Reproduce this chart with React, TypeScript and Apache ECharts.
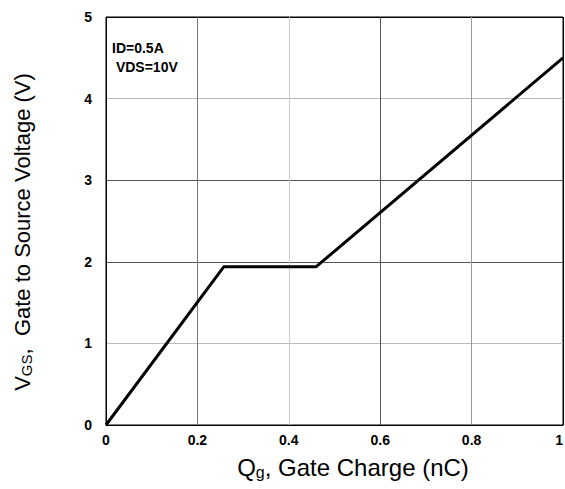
import React, { useEffect, useRef } from "react";
import * as echarts from "echarts";

const qg = [0, 0.258, 0.46, 1.0];
const vgs = [0, 1.94, 1.94, 4.5];
const xTicks = [0, 0.2, 0.4, 0.6, 0.8, 1];
const yTicks = [0, 1, 2, 3, 4, 5];
const notes = ["ID=0.5A", " VDS=10V"];
const xTitle = "{a|Q}{s|g}{a|, Gate Charge (nC)}";
const yTitle = "{a|V}{s|GS}{a|,  Gate to Source Voltage (V)}";

export default function App() {
  const ref = useRef<HTMLDivElement>(null);
  useEffect(() => {
    const chart = echarts.init(ref.current!, null, { renderer: "svg" });
    const font = "Liberation Sans, Arial, sans-serif";
    chart.setOption({
      animation: false,
      backgroundColor: "#fff",
      grid: {
        left: 106,
        right: 2,
        top: 17,
        bottom: 64,
        show: true,
        borderColor: "#000",
        borderWidth: 1,
        backgroundColor: "transparent",
        outerBoundsMode: "none",
        containLabel: false,
      },
      xAxis: {
        type: "value",
        min: 0,
        max: 1,
        interval: 0.2,
        axisLine: { show: true, lineStyle: { color: "#000", width: 1 } },
        axisTick: { show: false },
        axisLabel: {
          margin: 8,
          color: "#000",
          fontWeight: "bold",
          fontSize: 14,
          fontFamily: font,
          alignMaxLabel: "right",
          formatter: (v: number) => {
            const t = xTicks.find((k) => Math.abs(k - v) < 1e-6);
            return t === undefined ? "" : String(t);
          },
        },
        splitLine: {
          show: true,
          lineStyle: { color: ["#000", "#777", "#ccc", "#555", "#999", "#000"], width: 1 },
        },
      },
      yAxis: {
        type: "value",
        min: 0,
        max: 5,
        interval: 1,
        axisLine: { show: true, lineStyle: { color: "#000", width: 1 } },
        axisTick: { show: false },
        axisLabel: {
          margin: 14,
          color: "#000",
          fontWeight: "bold",
          fontSize: 14,
          fontFamily: font,
          formatter: (v: number) => String(yTicks.find((k) => k === v) ?? ""),
        },
        splitLine: {
          show: true,
          lineStyle: { color: ["#000", "#bbb", "#555", "#555", "#bbb", "#000"], width: 1 },
        },
      },
      graphic: [
        {
          type: "text",
          left: 112,
          top: 38,
          style: {
            text: notes.join("\n"),
            font: "bold 14px Liberation Sans, Arial, sans-serif",
            fill: "#000",
            lineHeight: 19,
          },
        },
        {
          type: "text",
          x: 353,
          y: 467,
          style: {
            text: xTitle,
            align: "center",
            verticalAlign: "middle",
            rich: {
              a: { fontSize: 24, fontFamily: font, fill: "#000", lineHeight: 28 },
              s: { fontSize: 16, fontFamily: font, fill: "#000", padding: [10, 0, 0, 0], lineHeight: 28 },
            },
          },
        },
        {
          type: "text",
          x: 22,
          y: 232,
          rotation: Math.PI / 2,
          style: {
            text: yTitle,
            align: "center",
            verticalAlign: "middle",
            rich: {
              a: { fontSize: 22, fontFamily: font, fill: "#000", lineHeight: 26 },
              s: { fontSize: 15, fontFamily: font, fill: "#000", padding: [9, 0, 0, 0], lineHeight: 26 },
            },
          },
        },
      ],
      series: [
        {
          type: "line",
          data: qg.map((x, i) => [x, vgs[i]]),
          symbol: "none",
          lineStyle: { color: "#000", width: 3 },
        },
      ],
    });
    return () => chart.dispose();
  }, []);
  return (
    <div
      ref={ref}
      style={{ position: "fixed", left: 0, top: 0, width: 565, height: 489 }}
    />
  );
}
